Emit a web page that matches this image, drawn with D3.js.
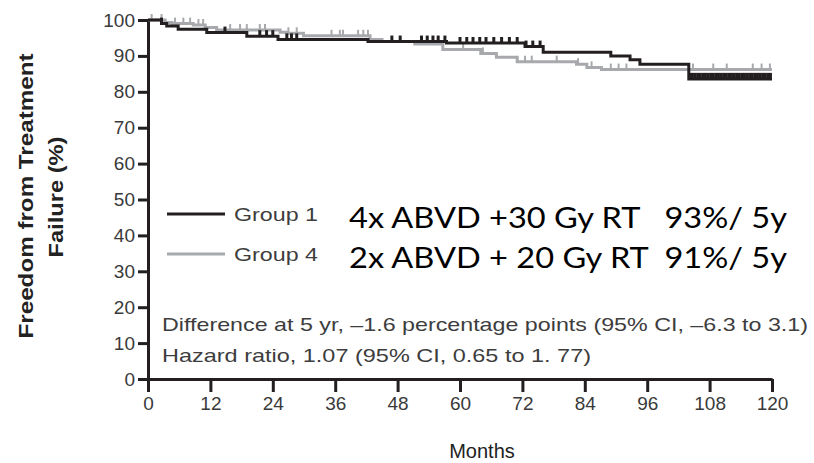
<!DOCTYPE html>
<html>
<head>
<meta charset="utf-8">
<script src="https://cdn.jsdelivr.net/npm/d3@7"></script>
<style>
  body { margin: 0; background: #fff; }
  svg { display: block; }
  .narrow { font-family: "Liberation Sans", Arial, sans-serif; }
  .big { font-family: Lato, "Open Sans", sans-serif; white-space: pre; }
</style>
</head>
<body>
<div id="chart"></div>
<script>
// Group 1 (black) step curve
var g1Months = [0, 2.6, 3.6, 5.8, 11.3, 19, 25, 42.3, 57.4, 72.5, 76, 89, 92.7, 94.6, 104, 120];
var g1Free = [100, 99.0, 98.3, 97.4, 96.5, 95.5, 94.6, 94.0, 93.6, 92.6, 91.0, 90.0, 88.9, 87.7, 83.6, 83.6];
var g1Censor = [2.6, 14.8, 21.5, 22.8, 24, 26.7, 27.6, 28.6, 46.9, 48.5, 52.6, 53.7, 54.8, 55.8, 57.1,
  60, 61.3, 62.5, 63.8, 65, 66.5, 68, 69.5, 71, 72.7, 74, 75.4,
  104.2, 104.7, 105.2, 105.7, 106.2, 106.7, 107.2, 107.7, 108.2, 108.7, 109.2, 109.7, 110.2, 110.7,
  111.2, 111.7, 112.2, 112.7, 113.2, 113.7, 114.2, 114.7, 115.2, 115.7, 116.2, 116.7, 117.2, 117.7,
  118.2, 118.7, 119.2, 119.7];

// Group 4 (gray) step curve
var g4Months = [0, 3.3, 4.6, 8.7, 11, 13.2, 25.4, 26.7, 29.9, 42.7, 45, 51.3, 56.7, 64, 67, 71, 82.4, 84.4, 87.2, 120];
var g4Free = [100, 99.3, 99.0, 98.6, 97.9, 97.2, 96.6, 96.3, 95.6, 94.6, 94.0, 93.3, 91.8, 90.7, 89.6, 88.4, 87.7, 86.8, 86.2, 86.2];
var g4Censor = [0.7, 2.6, 5.2, 6.8, 8.1, 9.7, 10.6, 15.8, 17.7, 19, 21.5, 22.5, 27, 28.6, 35.3, 36.9, 37.5,
  40.4, 41.4, 42.3, 60.6, 64.4, 72.5, 73.8, 78.6, 82.7, 85.3, 89, 90.5, 92, 104.8, 108.7, 111.3, 116.3, 118, 119.6];

var xTicks = [0, 12, 24, 36, 48, 60, 72, 84, 96, 108, 120];
var yTicks = [0, 10, 20, 30, 40, 50, 60, 70, 80, 90, 100];

var legendLabels = ["Group 1", "Group 4"];
var armLabels = ["4x ABVD +30 Gy RT   93%/ 5y", "2x ABVD + 20 Gy RT  91%/ 5y"];
var notes = ["Difference at 5 yr, \u20131.6 percentage points (95% CI, \u20136.3 to 3.1)",
             "Hazard ratio, 1.07 (95% CI, 0.65 to 1. 77)"];

var width = 814, height = 463;
var black = "#231f20", gray = "#a7a9ac";

var svg = d3.select("#chart").append("svg")
    .attr("width", width)
    .attr("height", height);

var x = d3.scaleLinear().domain([0, 120]).range([148, 772]);
var y = d3.scaleLinear().domain([0, 100]).range([379, 20]);

// axes
var yAxis = svg.append("g")
    .attr("transform", "translate(" + x(0) + ",0)")
    .call(d3.axisLeft(y).tickValues(yTicks).tickSize(10).tickSizeOuter(0).tickPadding(3));

var xAxis = svg.append("g")
    .attr("transform", "translate(0," + y(0) + ")")
    .call(d3.axisBottom(x).tickValues(xTicks).tickSize(13).tickSizeOuter(0).tickPadding(5));

[yAxis, xAxis].forEach(function(ax) {
  ax.select(".domain").attr("stroke", black).attr("stroke-width", 3);
  ax.selectAll(".tick line").attr("stroke", black).attr("stroke-width", 3);
  ax.selectAll(".tick text")
    .attr("class", "narrow")
    .attr("font-size", 19)
    .attr("fill", "#3a3a3a");
});

// step curves
function stepValue(months, free, t) {
  var i = d3.bisectRight(months, t) - 1;
  return free[Math.max(0, i)];
}

var line = d3.line()
    .x(d => x(d[0]))
    .y(d => y(d[1]))
    .curve(d3.curveStepAfter);

function drawCurve(months, free, censor, color, tickH, tickW) {
  svg.append("path")
      .datum(months.map((m, i) => [m, free[i]]))
      .attr("fill", "none")
      .attr("stroke", color)
      .attr("stroke-width", 3)
      .attr("d", line);

  svg.selectAll(null)
      .data(censor)
    .enter().append("line")
      .attr("x1", d => x(d))
      .attr("x2", d => x(d))
      .attr("y1", d => y(stepValue(months, free, d)))
      .attr("y2", d => y(stepValue(months, free, d)) - tickH)
      .attr("stroke", color)
      .attr("stroke-width", tickW);
}

drawCurve(g4Months, g4Free, g4Censor, gray, 6, 2);
drawCurve(g1Months, g1Free, g1Censor, black, 6, 3);

// legend
var legendY = [214, 254];
[black, gray].forEach(function(c, i) {
  svg.append("line")
      .attr("x1", 167).attr("x2", 225)
      .attr("y1", legendY[i]).attr("y2", legendY[i])
      .attr("stroke", c)
      .attr("stroke-width", 3);
  svg.append("text")
      .attr("class", "narrow")
      .attr("x", 234)
      .attr("y", legendY[i] + 7)
      .attr("font-size", 19)
      .attr("fill", "#3d3d3d")
      .attr("textLength", 84)
      .attr("lengthAdjust", "spacingAndGlyphs")
      .text(legendLabels[i]);
  svg.append("text")
      .attr("class", "big")
      .attr("x", 349)
      .attr("y", legendY[i] + 14)
      .attr("font-size", 28)
      .attr("fill", "#000")
      .attr("textLength", 438)
      .attr("lengthAdjust", "spacingAndGlyphs")
      .text(armLabels[i]);
});

// difference / hazard ratio notes
var noteLen = [646, 429];
notes.forEach(function(n, i) {
  svg.append("text")
      .attr("class", "narrow")
      .attr("x", 162)
      .attr("y", 331 + i * 31)
      .attr("font-size", 19)
      .attr("fill", "#3d3d3d")
      .attr("textLength", noteLen[i])
      .attr("lengthAdjust", "spacingAndGlyphs")
      .text(n);
});

// axis titles
svg.append("text")
    .attr("class", "narrow")
    .attr("transform", "translate(33,196) rotate(-90)")
    .attr("text-anchor", "middle")
    .attr("font-size", 21)
    .attr("font-weight", "bold")
    .attr("fill", "#222")
    .attr("textLength", 285)
    .attr("lengthAdjust", "spacingAndGlyphs")
    .text("Freedom from Treatment");

svg.append("text")
    .attr("class", "narrow")
    .attr("transform", "translate(63,197) rotate(-90)")
    .attr("text-anchor", "middle")
    .attr("font-size", 21)
    .attr("font-weight", "bold")
    .attr("fill", "#222")
    .attr("textLength", 121)
    .attr("lengthAdjust", "spacingAndGlyphs")
    .text("Failure (%)");

svg.append("text")
    .attr("class", "narrow")
    .attr("x", 482)
    .attr("y", 458)
    .attr("text-anchor", "middle")
    .attr("font-size", 20)
    .attr("fill", "#222")
    .text("Months");
</script>
</body>
</html>
